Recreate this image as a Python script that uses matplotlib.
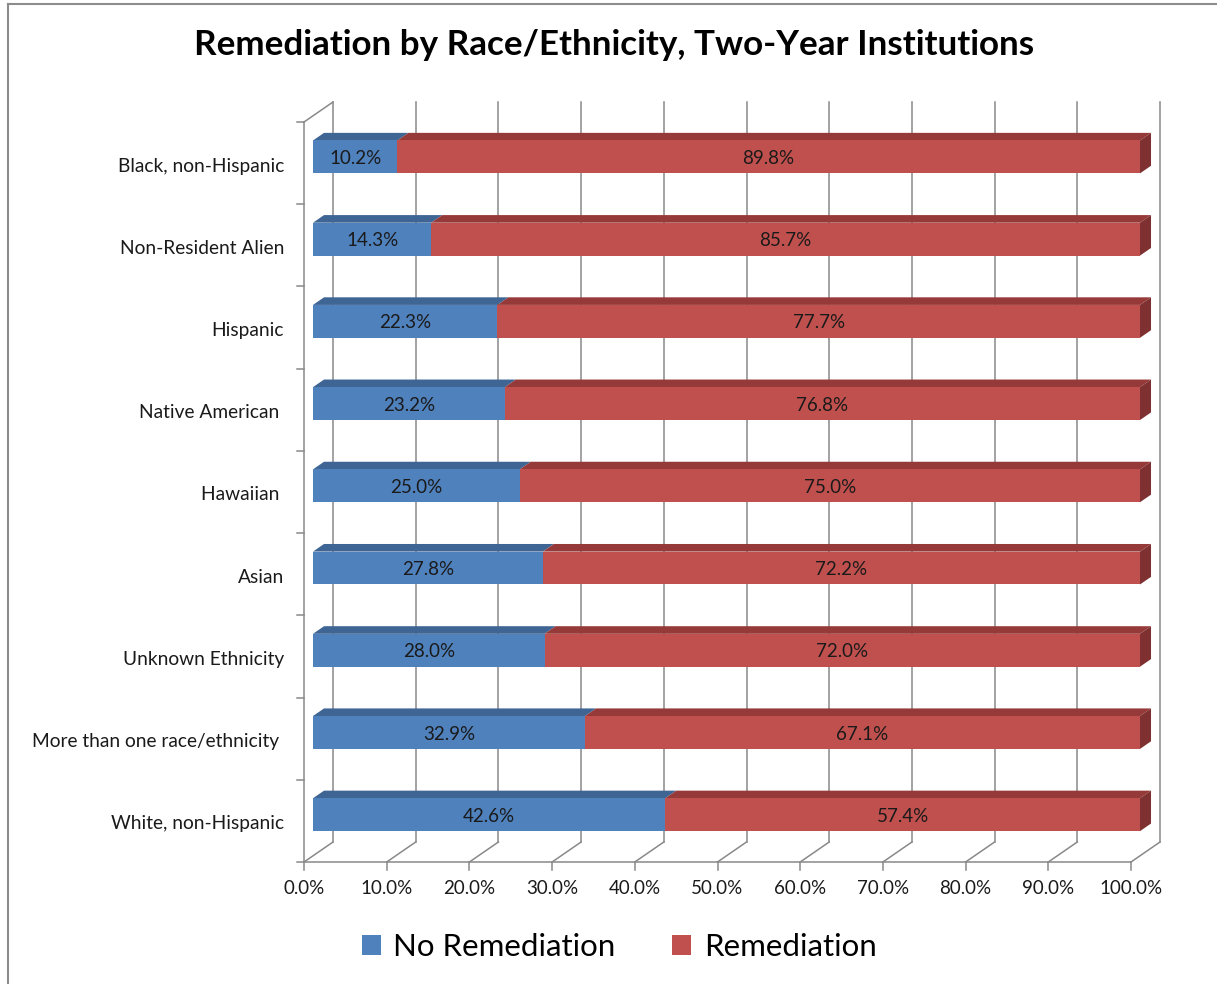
import numpy as np
import matplotlib.pyplot as plt
from matplotlib.patches import Polygon
from matplotlib.lines import Line2D
from matplotlib.transforms import offset_copy

categories = ['Black, non-Hispanic', 'Non-Resident Alien', 'Hispanic', 'Native American ',
              'Hawaiian ', 'Asian', 'Unknown Ethnicity', 'More than one race/ethnicity ',
              'White, non-Hispanic']
no_remediation = [10.2, 14.3, 22.3, 23.2, 25.0, 27.8, 28.0, 32.9, 42.6]
remediation = [89.8, 85.7, 77.7, 76.8, 75.0, 72.2, 72.0, 67.1, 57.4]
x_ticks = [0, 10, 20, 30, 40, 50, 60, 70, 80, 90, 100]
series_names = ['No Remediation', 'Remediation']

plt.rcParams['font.family'] = ['Lato', 'DejaVu Sans']

fig = plt.figure(figsize=(12.17, 9.84), dpi=100)
# axes = front plane of the bars
ax = fig.add_axes([313 / 1217, 1 - 855.8 / 984, 827 / 1217, 740 / 984])
n = len(categories)
ax.set_xlim(0, 100)
ax.set_ylim(n - 0.5, -0.5)
ax.set_axis_off()

# depth vector of the fake 3D box (29 px right, 20 px up) in data units
DX = 29 / (827 / 100)
DY = -20 / (740 / n)
F_FRONT, F_BACK, F_BAR = -0.31, 0.69, 0.38
grid_c = '#898989'
lw = 1.1

def sh(x, y, f):
    return x + f * DX, y + f * DY

y_bot, y_top = n - 0.5, -0.5

# back wall gridlines + floor lines + ticks
for x in x_ticks:
    bx0, by0 = sh(x, y_bot, F_BACK)
    bx1, by1 = sh(x, y_top, F_BACK)
    fx, fy = sh(x, y_bot, F_FRONT)
    ax.plot([bx0, bx1], [by0, by1], color=grid_c, lw=lw, clip_on=False, zorder=1)
    ax.plot([fx, bx0], [fy, by0], color=grid_c, lw=lw, clip_on=False, zorder=1)
    ax.plot([fx, fx], [fy, fy + 8 / (740 / n)], color=grid_c, lw=lw, clip_on=False, zorder=1)
    t = offset_copy(ax.transData, fig, x=0, y=-27, units='dots')
    ax.text(fx, fy, f'{x:.1f}%', transform=t, ha='center', va='center',
            fontsize=13.5, color='#1a1a1a')

# floor front edge and left wall
fx0, fy0 = sh(0, y_bot, F_FRONT)
fx1, _ = sh(100, y_bot, F_FRONT)
ax.plot([fx0, fx1], [fy0, fy0], color=grid_c, lw=lw, clip_on=False, zorder=1)
tx0, ty0 = sh(0, y_top, F_FRONT)
ax.plot([fx0, tx0], [fy0, ty0], color=grid_c, lw=lw, clip_on=False, zorder=1)
bx, by = sh(0, y_top, F_BACK)
ax.plot([tx0, bx], [ty0, by], color=grid_c, lw=lw, clip_on=False, zorder=1)
for k in range(n + 1):
    xx, yy = sh(0, k - 0.5, F_FRONT)
    ax.plot([xx - 7 / 8.27, xx], [yy, yy], color=grid_c, lw=lw, clip_on=False, zorder=1)

# category labels (sit on the front floor plane)
for i, cat in enumerate(categories):
    xx, yy = sh(0, i, F_FRONT)
    t = offset_copy(ax.transData, fig, x=-20, y=-3, units='dots')
    ax.text(xx, yy, cat, transform=t, ha='right', va='center', fontsize=13.8, color='#1a1a1a')

# bars
y = np.arange(n)
h = 0.40
front_c = ['#4F81BD', '#C0504D']
top_c = ['#3E6594', '#953A38']
side_c = '#7E3130'
b1 = ax.barh(y, no_remediation, height=h, color=front_c[0], zorder=3)
b2 = ax.barh(y, remediation, left=no_remediation, height=h, color=front_c[1], zorder=3)

bdx, bdy = F_BAR * DX, F_BAR * DY
for i in range(n):
    yt = y[i] - h / 2
    yb = y[i] + h / 2
    for left, w, c in [(0, no_remediation[i], top_c[0]),
                       (no_remediation[i], remediation[i], top_c[1])]:
        ax.add_patch(Polygon([(left, yt), (left + w, yt), (left + w + bdx, yt + bdy),
                              (left + bdx, yt + bdy)], closed=True, facecolor=c,
                             edgecolor='none', clip_on=False, zorder=2.5))
    r = no_remediation[i] + remediation[i]
    ax.add_patch(Polygon([(r, yt), (r + bdx, yt + bdy), (r + bdx, yb + bdy), (r, yb)],
                         closed=True, facecolor=side_c, edgecolor='none',
                         clip_on=False, zorder=2.5))
    ax.text(no_remediation[i] / 2, y[i] + 0.02, f'{no_remediation[i]:.1f}%', ha='center',
            va='center', fontsize=13.5, color='#1a1a1a', zorder=4)
    ax.text(no_remediation[i] + remediation[i] / 2, y[i] + 0.02, f'{remediation[i]:.1f}%',
            ha='center', va='center', fontsize=13.5, color='#1a1a1a', zorder=4)

fig.text(614 / 1217, 1 - 45 / 984, 'Remediation by Race/Ethnicity, Two-Year Institutions',
         ha='center', va='center', fontsize=25.2, fontweight='bold', color='black')

ax.legend([b1, b2], series_names, loc='center', bbox_to_anchor=(619 / 1217, 1 - 947 / 984),
          bbox_transform=fig.transFigure, ncol=2, frameon=False, fontsize=22.5,
          handlelength=0.62, handleheight=0.62, handletextpad=0.4, columnspacing=1.8)

# chart area border
fig.add_artist(Line2D([8 / 1217, 8 / 1217], [0, 1 - 4 / 984], color='#8c8c8c', lw=1.5))
fig.add_artist(Line2D([8 / 1217, 1], [1 - 4 / 984, 1 - 4 / 984], color='#8c8c8c', lw=1.5))

plt.savefig('out.png', dpi=100, facecolor='white')
plt.close()
